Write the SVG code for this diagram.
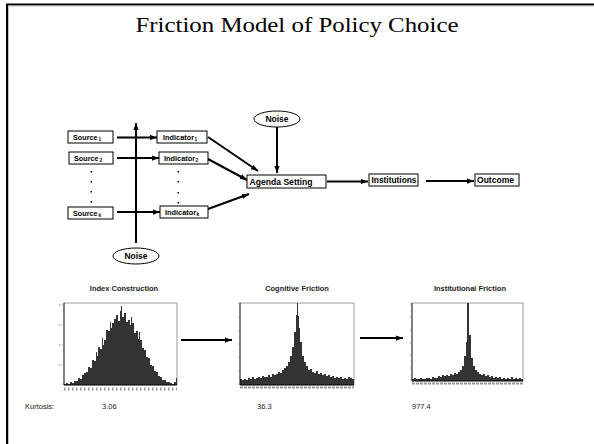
<svg xmlns="http://www.w3.org/2000/svg" width="594" height="444" viewBox="0 0 594 444">
<defs>
<style>
.box{fill:#fff;stroke:#000;stroke-width:1}
.lbl{font-family:"Liberation Sans",Arial,sans-serif;font-weight:bold;fill:#000}
.sm{font-size:7.5px}
.md{font-size:8.5px}
.sub{font-size:4.8px}
.conn{stroke:#000;stroke-width:2;fill:none;marker-end:url(#ah)}
.bars{fill:#333}
.axis{stroke:#000;stroke-width:1;fill:none}
.frame{stroke:#999;stroke-width:1;fill:none}
.tick{stroke:#888;stroke-width:0.8}
.xl{stroke:#999;stroke-width:3;stroke-dasharray:1.5 2.5;fill:none}
.htitle{font-family:"Liberation Sans",Arial,sans-serif;font-weight:bold;font-size:7.5px;fill:#222;text-anchor:middle}
.kt{font-family:"Liberation Sans",Arial,sans-serif;font-size:7.5px;fill:#222}
</style>
<marker id="ah" viewBox="0 0 8 6" refX="8" refY="3" markerWidth="7" markerHeight="5.5" orient="auto" markerUnits="userSpaceOnUse"><path d="M0,0 L8,3 L0,6 Z" fill="#000"/></marker>
</defs>
<rect width="594" height="444" fill="#fff"/>
<path d="M7,444 V4.5 H594" fill="none" stroke="#000" stroke-width="2"/>
<path d="M8.5,444 V6 H594" fill="none" stroke="#bbb" stroke-width="0.8"/>
<text x="297" y="32" text-anchor="middle" font-family="'Liberation Serif','Times New Roman',serif" font-size="21" textLength="323" lengthAdjust="spacingAndGlyphs" fill="#000">Friction Model of Policy Choice</text>

<g id="connectors">
<path class="conn" d="M117,137.5 H157"/>
<path class="conn" d="M117,158 H159"/>
<path class="conn" d="M117,212 H160"/>
<path class="conn" d="M136,243 V123"/>
<path class="conn" d="M208,137 L258,171"/>
<path class="conn" d="M208,159 L247,180"/>
<path class="conn" d="M208,209 L249,194"/>
<path class="conn" d="M277,127 V173"/>
<path class="conn" d="M327,181.5 H368"/>
<path class="conn" d="M426,181 H474"/>
<path class="conn" d="M181,340 H232"/>
<path class="conn" d="M360,338 H403"/>
</g>

<g id="source1"><rect class="box" x="68" y="131" width="45" height="12"/><text class="lbl sm" x="73" y="139.5" textLength="24.5" lengthAdjust="spacingAndGlyphs">Source</text><text class="lbl sub" x="98.5" y="141">1</text></g>
<g id="source2"><rect class="box" x="69" y="152" width="44" height="12"/><text class="lbl sm" x="74" y="160.5" textLength="24.5" lengthAdjust="spacingAndGlyphs">Source</text><text class="lbl sub" x="99.5" y="162">2</text></g>
<g id="sourcek"><rect class="box" x="68" y="207" width="45" height="12"/><text class="lbl sm" x="73" y="215.5" textLength="24.5" lengthAdjust="spacingAndGlyphs">Source</text><text class="lbl sub" x="98.5" y="217">k</text></g>
<g id="sourcedots" fill="#000"><rect x="90.5" y="171" width="1.5" height="1.5"/><rect x="90.5" y="181" width="1.5" height="1.5"/><rect x="90.5" y="191" width="1.5" height="1.5"/><rect x="90.5" y="201" width="1.5" height="1.5"/></g>

<g id="indicator1"><rect class="box" x="157" y="131" width="50" height="12"/><text class="lbl sm" x="163" y="139.5" textLength="31" lengthAdjust="spacingAndGlyphs">Indicator</text><text class="lbl sub" x="194.5" y="141">1</text></g>
<g id="indicator2"><rect class="box" x="159" y="152" width="49" height="12"/><text class="lbl sm" x="164" y="160.5" textLength="31" lengthAdjust="spacingAndGlyphs">Indicator</text><text class="lbl sub" x="195.5" y="162">2</text></g>
<g id="indicatork"><rect class="box" x="160" y="206" width="48" height="12"/><text class="lbl sm" x="165" y="214.5" textLength="31" lengthAdjust="spacingAndGlyphs">Indicator</text><text class="lbl sub" x="196.5" y="216">k</text></g>
<g id="indicatordots" fill="#000"><rect x="177.5" y="171" width="1.5" height="1.5"/><rect x="177.5" y="181" width="1.5" height="1.5"/><rect x="177.5" y="192" width="1.5" height="1.5"/><rect x="177.5" y="202" width="1.5" height="1.5"/></g>

<g id="noise-bottom"><ellipse cx="136" cy="256" rx="23" ry="8" fill="#fff" stroke="#000" stroke-width="1"/><text class="lbl md" x="136" y="259" text-anchor="middle">Noise</text></g>
<g id="noise-top"><ellipse cx="277" cy="119" rx="23" ry="8" fill="#fff" stroke="#000" stroke-width="1"/><text class="lbl md" x="277" y="122" text-anchor="middle">Noise</text></g>

<g id="agenda"><rect class="box" x="247" y="175" width="79" height="13"/><text class="lbl md" x="249.5" y="185" textLength="63" lengthAdjust="spacingAndGlyphs">Agenda Setting</text></g>
<g id="institutions"><rect class="box" x="369" y="174" width="49" height="12"/><text class="lbl md" x="371.5" y="183" textLength="45" lengthAdjust="spacingAndGlyphs">Institutions</text></g>
<g id="outcome"><rect class="box" x="475" y="174" width="44" height="12"/><text class="lbl md" x="477" y="183" textLength="37" lengthAdjust="spacingAndGlyphs">Outcome</text></g>

<g id="chart-index">
<text class="htitle" x="124" y="291">Index Construction</text>
<path class="frame" d="M64,303 H177 V385"/>
<path class="bars" d="M64,385 V384 H66 V383 H68 V384 H70 V382 H72 V383 H74 V381 H76 V381 H78 V378 H80 V379 H82 V375 H84 V373 H86 V372 H88 V367 H90 V368 H92 V360 H94 V361 H96 V352 H97 V356 H98 V347 H100 V349 H102 V338 H103 V345 H104 V340 H106 V330 H108 V331 H110 V322 H111 V328 H112 V323 H114 V319 H116 V315 H118 V321 H120 V311 H121 V306 H122 V317 H124 V313 H126 V322 H128 V320 H130 V325 H131 V317 H132 V323 H134 V333 H136 V331 H138 V339 H139 V332 H140 V340 H142 V348 H144 V350 H146 V357 H148 V358 H150 V365 H152 V366 H154 V371 H156 V372 H158 V376 H160 V377 H162 V380 H164 V380 H166 V382 H168 V382 H170 V383 H172 V384 H174 V382 H176 V378 H177 V385 Z"/>
<path class="axis" d="M64,303 V385 H177"/>
<path class="tick" d="M62,305 H64 M62,325 H64 M62,345 H64 M62,365 H64 M62,384 H64 M59,305 H61 M59,325 H61 M59,345 H61 M59,365 H61"/>
<path class="xl" d="M64,389 H177"/>
</g>

<g id="chart-cognitive">
<text class="htitle" x="297" y="291">Cognitive Friction</text>
<path class="frame" d="M240,303 H354 V385"/>
<path class="bars" d="M240,385 V379 H242 V380 H244 V379 H246 V380 H248 V378 H250 V379 H252 V377 H254 V379 H256 V378 H258 V377 H260 V378 H262 V376 H264 V377 H266 V377 H268 V375 H270 V377 H272 V374 H274 V375 H276 V374 H278 V372 H280 V373 H282 V370 H284 V368 H286 V366 H288 V362 H290 V356 H292 V347 H294 V332 H296 V315 H297 V303 H298 V316 H299 V328 H300 V342 H302 V356 H304 V362 H306 V366 H308 V370 H310 V369 H312 V372 H314 V373 H316 V371 H318 V374 H320 V373 H322 V375 H324 V374 H326 V376 H328 V375 H330 V377 H332 V376 H334 V378 H336 V377 H338 V378 H340 V377 H342 V379 H344 V378 H346 V379 H348 V377 H350 V378 H352 V379 H354 V385 Z"/>
<path class="axis" d="M240,303 V385 H354"/>
<path class="tick" d="M238,303 H240 M238,317 H240 M238,331 H240 M238,344 H240 M238,357 H240 M238,371 H240 M238,384 H240"/>
<path class="xl" d="M240,387.5 H354" style="stroke-width:2;stroke-dasharray:3 1"/>
</g>

<g id="chart-institutional">
<text class="htitle" x="470" y="291">Institutional Friction</text>
<path class="frame" d="M412,303 H523 V381"/>
<path class="bars" d="M412,381 V379 H414 V378 H416 V379 H420 V378 H422 V379 H426 V378 H430 V379 H432 V377 H434 V378 H438 V376 H440 V377 H442 V375 H444 V376 H446 V375 H448 V376 H450 V374 H452 V375 H454 V373 H456 V374 H458 V372 H460 V370 H462 V366 H464 V356 H466 V342 H467 V303 H469 V335 H471 V358 H473 V366 H475 V370 H477 V372 H479 V374 H481 V375 H483 V374 H485 V376 H487 V375 H489 V377 H491 V376 H493 V378 H495 V377 H497 V378 H499 V377 H501 V379 H503 V378 H505 V379 H507 V378 H509 V379 H511 V377 H513 V379 H515 V378 H517 V379 H519 V378 H521 V379 H523 V381 Z"/>
<path class="axis" d="M412,303 V381 H523"/>
<path class="tick" d="M410,304 H412 M410,317 H412 M410,330 H412 M410,343 H412 M410,355 H412 M410,368 H412 M410,380 H412"/>
<path class="xl" d="M412,383.5 H523" style="stroke-width:2;stroke-dasharray:3 1"/>
</g>

<g id="kurtosis">
<text class="kt" x="25" y="409">Kurtosis:</text>
<text class="kt" x="102" y="409">3.06</text>
<text class="kt" x="257" y="409">36.3</text>
<text class="kt" x="412" y="409">977.4</text>
</g>
</svg>
